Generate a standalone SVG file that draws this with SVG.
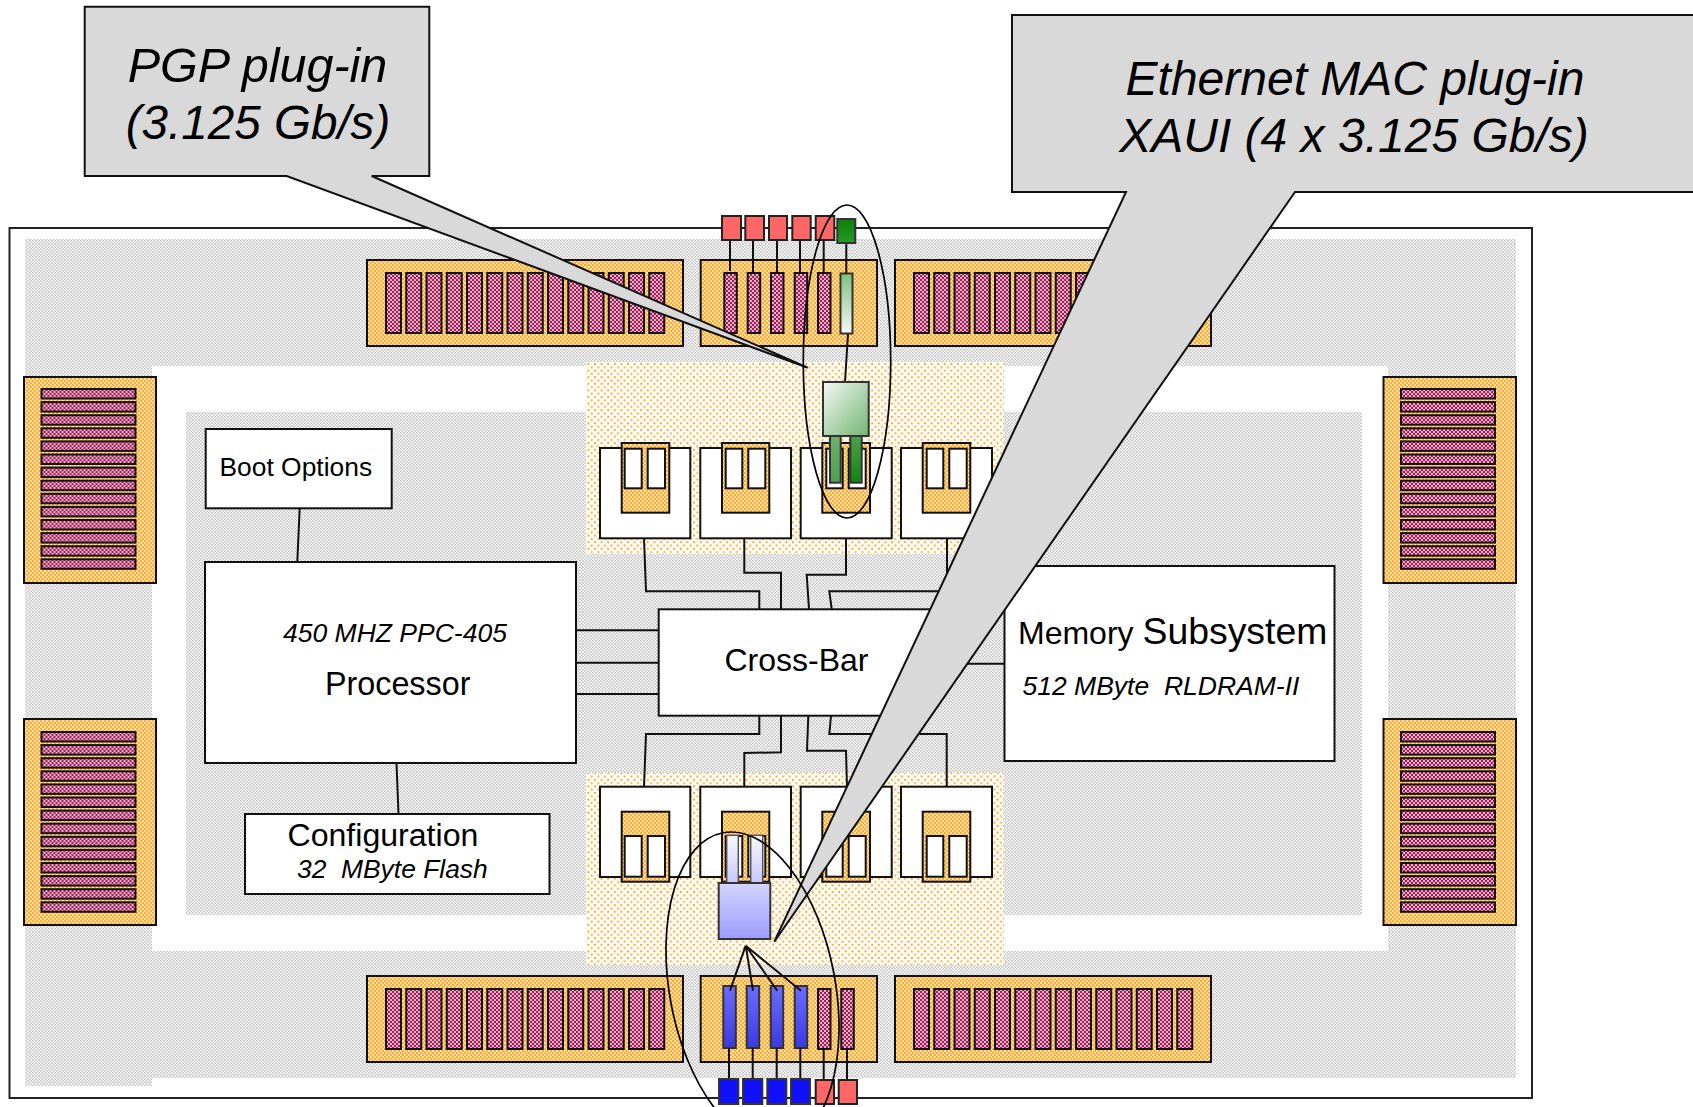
<svg xmlns="http://www.w3.org/2000/svg" xmlns:xlink="http://www.w3.org/1999/xlink" width="1693" height="1107" viewBox="0 0 1693 1107">
<style>
text{font-family:"Liberation Sans",Arial,sans-serif;fill:#000;white-space:pre}
.i{font-style:italic}
.c{text-anchor:middle}
.box{fill:#fff;stroke:#111;stroke-width:2}
.blk{fill:url(#po);stroke:#111;stroke-width:2}
.pin{fill:url(#pp);stroke:#111;stroke-width:2}
.red{fill:#ff6666;stroke:#222;stroke-width:2}
.blu{fill:#1010ff;stroke:#333;stroke-width:2}
.slot{fill:#fff;stroke:#111;stroke-width:2}
.w{fill:none;stroke:#111;stroke-width:2}
.call{fill:#d9d9d9;stroke:#111;stroke-width:2}
.ell{fill:none;stroke:#000;stroke-width:1.7}
</style>
<defs>
<pattern id="pg" width="3.2" height="3.2" patternUnits="userSpaceOnUse"><rect width="3.2" height="3.2" fill="#f8f8f8"/><rect width="1.6" height="1.6" fill="#c6c6c6"/><rect x="1.6" y="1.6" width="1.6" height="1.6" fill="#cccccc"/></pattern>
<pattern id="pd" width="6.6" height="6.6" patternUnits="userSpaceOnUse"><rect width="6.6" height="6.6" fill="#fff"/><rect width="2" height="2" fill="#ffa91f"/><rect x="3.3" y="3.3" width="2" height="2" fill="#ffa91f"/></pattern>
<pattern id="po" width="4" height="4" patternUnits="userSpaceOnUse"><rect width="4" height="4" fill="#ffe0a8"/><rect width="2" height="2" fill="#ffac33"/><rect x="2" y="2" width="2" height="2" fill="#ffac33"/></pattern>
<pattern id="pp" width="4" height="4" patternUnits="userSpaceOnUse"><rect width="4" height="4" fill="#e9afc5"/><rect width="2" height="2" fill="#9c1f5b"/><rect x="2" y="2" width="2" height="2" fill="#9c1f5b"/></pattern>
<linearGradient id="gbar" x1="0" y1="0" x2="0" y2="1"><stop offset="0" stop-color="#7fbf7f"/><stop offset="1" stop-color="#f4f9f4"/></linearGradient>
<linearGradient id="gpad" x1="0" y1="0" x2="0" y2="1"><stop offset="0" stop-color="#0a800a"/><stop offset="1" stop-color="#289a28"/></linearGradient>
<linearGradient id="gmod" x1="0" y1="0" x2="1" y2="1"><stop offset="0" stop-color="#f4f9f4"/><stop offset="1" stop-color="#74b474"/></linearGradient>
<linearGradient id="gleg1" x1="0" y1="0" x2="0" y2="1"><stop offset="0" stop-color="#6cb06c"/><stop offset="1" stop-color="#4f9f4f"/></linearGradient>
<linearGradient id="gleg2" x1="0" y1="0" x2="0" y2="1"><stop offset="0" stop-color="#4ea04e"/><stop offset="1" stop-color="#0f870f"/></linearGradient>
<linearGradient id="bmod" x1="0" y1="0" x2="0" y2="1"><stop offset="0" stop-color="#d4d4ff"/><stop offset="1" stop-color="#9c9cff"/></linearGradient>
<linearGradient id="bleg" x1="0" y1="0" x2="0" y2="1"><stop offset="0" stop-color="#fafaff"/><stop offset="1" stop-color="#c8c8ff"/></linearGradient>
<linearGradient id="bbar" x1="0" y1="0" x2="0" y2="1"><stop offset="0" stop-color="#6c6cff"/><stop offset="1" stop-color="#3a3ae0"/></linearGradient>
<g id="hpins">
<rect class="pin" x="0" y="0" width="94" height="9.5"/><rect class="pin" y="13.1" width="94" height="9.5"/><rect class="pin" y="26.2" width="94" height="9.5"/><rect class="pin" y="39.3" width="94" height="9.5"/><rect class="pin" y="52.4" width="94" height="9.5"/><rect class="pin" y="65.5" width="94" height="9.5"/><rect class="pin" y="78.6" width="94" height="9.5"/><rect class="pin" y="91.7" width="94" height="9.5"/><rect class="pin" y="104.8" width="94" height="9.5"/><rect class="pin" y="117.9" width="94" height="9.5"/><rect class="pin" y="131" width="94" height="9.5"/><rect class="pin" y="144.1" width="94" height="9.5"/><rect class="pin" y="157.2" width="94" height="9.5"/><rect class="pin" y="170.3" width="94" height="9.5"/>
</g>
<g id="vpins">
<rect class="pin" x="0" width="15" height="60"/><rect class="pin" x="20.25" width="15" height="60"/><rect class="pin" x="40.5" width="15" height="60"/><rect class="pin" x="60.75" width="15" height="60"/><rect class="pin" x="81" width="15" height="60"/><rect class="pin" x="101.25" width="15" height="60"/><rect class="pin" x="121.5" width="15" height="60"/><rect class="pin" x="141.75" width="15" height="60"/><rect class="pin" x="162" width="15" height="60"/><rect class="pin" x="182.25" width="15" height="60"/><rect class="pin" x="202.5" width="15" height="60"/><rect class="pin" x="222.75" width="15" height="60"/><rect class="pin" x="243" width="15" height="60"/><rect class="pin" x="263.25" width="15" height="60"/>
</g>
</defs>
<rect width="1693" height="1107" fill="#fff"/>
<g id="board">
<rect x="9.5" y="228" width="1522.5" height="870" fill="#fff" stroke="#222" stroke-width="2"/>
<rect x="25" y="239" width="1491" height="839" fill="url(#pg)"/>
<rect x="25" y="1078" width="127" height="8" fill="url(#pg)"/>
<rect x="152" y="366" width="1236" height="585" fill="#fff"/>
<rect x="186" y="412" width="1176" height="503" fill="url(#pg)"/>
<rect x="586" y="362" width="418" height="192" fill="url(#pd)"/>
<rect x="586" y="773" width="418" height="192" fill="url(#pd)"/>
</g>
<g id="conn-left-top"><rect class="blk" x="24" y="377" width="132" height="206"/><use xlink:href="#hpins" x="41.5" y="389"/></g>
<g id="conn-left-bottom"><rect class="blk" x="24" y="719" width="132" height="206"/><use xlink:href="#hpins" x="41.5" y="732"/></g>
<g id="conn-right-top"><rect class="blk" x="1383.5" y="377" width="132.5" height="206"/><use xlink:href="#hpins" x="1401" y="389"/></g>
<g id="conn-right-bottom"><rect class="blk" x="1383.5" y="719" width="132.5" height="206"/><use xlink:href="#hpins" x="1401" y="732"/></g>
<g id="conn-top-a"><rect class="blk" x="367" y="260" width="316" height="86"/><use xlink:href="#vpins" x="386" y="273"/></g>
<g id="conn-top-c"><rect class="blk" x="895" y="260" width="316" height="86"/><use xlink:href="#vpins" x="914" y="273"/></g>
<g id="conn-bottom-a"><rect class="blk" x="367" y="976" width="316" height="86"/><use xlink:href="#vpins" x="386" y="989"/></g>
<g id="conn-bottom-c"><rect class="blk" x="895" y="976" width="316" height="86"/><use xlink:href="#vpins" x="914" y="989"/></g>
<g id="conn-top-b">
<rect class="blk" x="700.7" y="260" width="176.3" height="86"/>
<rect class="pin" x="724.3" y="273" width="12.5" height="60"/><rect class="pin" x="747.7" y="273" width="12.5" height="60"/><rect class="pin" x="771" y="273" width="12.5" height="60"/><rect class="pin" x="794.7" y="273" width="12.5" height="60"/><rect class="pin" x="818" y="273" width="12.5" height="60"/>
<rect x="840.5" y="273.5" width="12" height="60" fill="url(#gbar)" stroke="#333" stroke-width="2"/>
</g>
<g id="conn-bottom-b">
<rect class="blk" x="700.7" y="976" width="176.3" height="86"/>
<rect x="723.3" y="986" width="12.5" height="62" fill="url(#bbar)" stroke="#333" stroke-width="2"/><rect x="746.7" y="986" width="12.5" height="62" fill="url(#bbar)" stroke="#333" stroke-width="2"/><rect x="770.7" y="986" width="12.5" height="62" fill="url(#bbar)" stroke="#333" stroke-width="2"/><rect x="794.7" y="986" width="12.5" height="62" fill="url(#bbar)" stroke="#333" stroke-width="2"/>
<rect class="pin" x="818" y="989" width="12.5" height="60"/><rect class="pin" x="841.3" y="989" width="12.5" height="60"/>
</g>
<g id="connectors">
<path class="w" d="M730 240V271M753 240V273M777 240V273M800 240V273M823.7 240V273M846.3 243V273M848 334L845 382"/>
<path class="w" d="M729 1048V1079M752.7 1048V1079M776.7 1048V1079M800.3 1048V1079M823.7 1049V1080M847 1049V1080"/>
<path class="w" d="M745.7 945.7L730 990.7M745.7 945.7L753 990.7M745.7 945.7L777.3 990.7M745.7 945.7L801 990.7"/>
<path class="w" d="M644 538L646 591.3H759.3V609M744.3 538V572.7H781V609M846 538V574.7H806.7L809 609M947 538V591.3H829.3L831.7 609"/>
<path class="w" d="M759.3 716V734H646L644 787M781 716V752.3L744.3 753V787M808.3 716L807 750.7H846L847 787M831 716L829.3 734H946.7V787"/>
<path class="w" d="M576 630.3H658.7M576 662.7H658.7M576 694H658.7M930 663.7H1005"/>
<path class="w" d="M299.7 508L297.3 562M396.5 763L398.5 814"/>
</g>
<g id="pads-top">
<rect class="red" x="722" y="216" width="19" height="24"/><rect class="red" x="745.3" y="216" width="18.7" height="24"/><rect class="red" x="769" y="216" width="18" height="24"/><rect class="red" x="792.3" y="216" width="18.4" height="24"/><rect class="red" x="815.7" y="216" width="18.6" height="24"/>
<rect x="837.3" y="219" width="18" height="24" fill="url(#gpad)" stroke="#333" stroke-width="2"/>
</g>
<g id="pads-bottom">
<rect class="blu" x="719" y="1079" width="19.3" height="25"/><rect class="blu" x="743" y="1079" width="19.3" height="25"/><rect class="blu" x="767.3" y="1079" width="19" height="25"/><rect class="blu" x="791" y="1079" width="19" height="25"/>
<rect class="red" x="815.7" y="1080" width="18.3" height="24"/><rect class="red" x="838.7" y="1080" width="18.3" height="24"/>
</g>
<g id="switch-top-1"><rect class="box" x="600" y="448" width="90.3" height="90.3"/><rect class="blk" x="621.7" y="443" width="47.6" height="69.7"/><rect class="slot" x="624.7" y="448.7" width="17" height="39.6"/><rect class="slot" x="647.7" y="448.7" width="17.3" height="39.6"/></g>
<g id="switch-top-2"><rect class="box" x="700.3" y="448" width="90.7" height="90.3"/><rect class="blk" x="722" y="443" width="47.3" height="69.7"/><rect class="slot" x="725.7" y="448.7" width="16.6" height="39.6"/><rect class="slot" x="748.3" y="448.7" width="17" height="39.6"/></g>
<g id="switch-top-3"><rect class="box" x="800.7" y="448" width="91" height="90.3"/><rect class="blk" x="822.3" y="443" width="47.7" height="69.7"/><rect class="slot" x="826.3" y="448.7" width="16.4" height="39.6"/><rect class="slot" x="848.7" y="448.7" width="17" height="39.6"/></g>
<g id="switch-top-4"><rect class="box" x="901" y="448" width="91" height="90.3"/><rect class="blk" x="922.7" y="443" width="47.6" height="69.7"/><rect class="slot" x="926.7" y="448.7" width="16.6" height="39.6"/><rect class="slot" x="949.3" y="448.7" width="17.4" height="39.6"/></g>
<g id="switch-bottom-1"><rect class="box" x="600" y="786.7" width="90.3" height="90.3"/><rect class="blk" x="621.7" y="811.7" width="47.6" height="70"/><rect class="slot" x="624.7" y="836" width="17" height="40.7"/><rect class="slot" x="647.7" y="836" width="17.3" height="40.7"/></g>
<g id="switch-bottom-2"><rect class="box" x="700.3" y="786.7" width="90.7" height="90.3"/><rect class="blk" x="722" y="811.7" width="47.3" height="70"/><rect class="slot" x="725.7" y="836" width="16.6" height="40.7"/><rect class="slot" x="748.3" y="836" width="17" height="40.7"/></g>
<g id="switch-bottom-3"><rect class="box" x="800.7" y="786.7" width="91" height="90.3"/><rect class="blk" x="822.3" y="811.7" width="47.7" height="70"/><rect class="slot" x="826.3" y="836" width="16.4" height="40.7"/><rect class="slot" x="848.7" y="836" width="17" height="40.7"/></g>
<g id="switch-bottom-4"><rect class="box" x="901" y="786.7" width="91" height="90.3"/><rect class="blk" x="922.7" y="811.7" width="47.6" height="70"/><rect class="slot" x="926.7" y="836" width="16.6" height="40.7"/><rect class="slot" x="949.3" y="836" width="17.4" height="40.7"/></g>
<g id="pgp-module">
<rect x="830" y="436" width="10.7" height="46.7" fill="url(#gleg1)" stroke="#333" stroke-width="2"/>
<rect x="850.3" y="436" width="11.4" height="46.7" fill="url(#gleg2)" stroke="#333" stroke-width="2"/>
<rect x="823" y="382" width="45.7" height="54" fill="url(#gmod)" stroke="#333" stroke-width="2"/>
</g>
<g id="mac-module">
<rect x="726.7" y="835.3" width="11.6" height="47.7" fill="url(#bleg)" stroke="#555" stroke-width="1.5"/>
<rect x="750.7" y="835.3" width="12" height="47.7" fill="url(#bleg)" stroke="#555" stroke-width="1.5"/>
<rect x="718.7" y="883" width="51.6" height="56" fill="url(#bmod)" stroke="#333" stroke-width="2"/>
</g>
<g id="boot-options"><rect class="box" x="205.7" y="429" width="186" height="79.3"/><text x="219.5" y="476" font-size="26.4">Boot Options</text></g>
<g id="processor"><rect class="box" x="205" y="562" width="371" height="201"/><text class="i" x="283" y="642" font-size="26.5">450 MHZ PPC-405</text><text x="325" y="695" font-size="32.3">Processor</text></g>
<g id="configuration"><rect class="box" x="245" y="814" width="304.5" height="80"/><text x="287.5" y="845.5" font-size="32.1">Configuration</text><text class="i" x="297" y="877.5" font-size="26.4">32  MByte Flash</text></g>
<g id="cross-bar"><rect class="box" x="658.7" y="609.3" width="271.3" height="106.4"/><text x="724.5" y="670.7" font-size="32">Cross-Bar</text></g>
<g id="memory"><rect class="box" x="1004.5" y="566" width="330" height="195"/><text x="1018" y="643.5" font-size="32">Memory <tspan font-size="37.4">Subsystem</tspan></text><text class="i" x="1022.5" y="695" font-size="26.5">512 MByte  RLDRAM-II</text></g>
<g id="callout-pgp"><path class="call" d="M84.7 6.7H429.3V176H371.7L807.7 367.7L286.7 176H84.7Z"/><text class="i c" x="257.5" y="81.7" font-size="48.5">PGP plug-in</text><text class="i c" x="258" y="139.3" font-size="47.6">(3.125 Gb/s)</text></g>
<g id="callout-mac"><path class="call" d="M1012 15H1700V192H1295L774.3 941.7L1126 192H1012Z"/><text class="i c" x="1355" y="94.5" font-size="48">Ethernet MAC plug-in</text><text class="i c" x="1354" y="152" font-size="48">XAUI (4 x 3.125 Gb/s)</text></g>
<g id="highlights">
<ellipse class="ell" cx="847" cy="361.5" rx="43.7" ry="156.5"/>
<ellipse class="ell" cx="752.5" cy="988.6" rx="82.8" ry="158.6" transform="rotate(-10.7 752.5 988.6)"/>
</g>
</svg>
